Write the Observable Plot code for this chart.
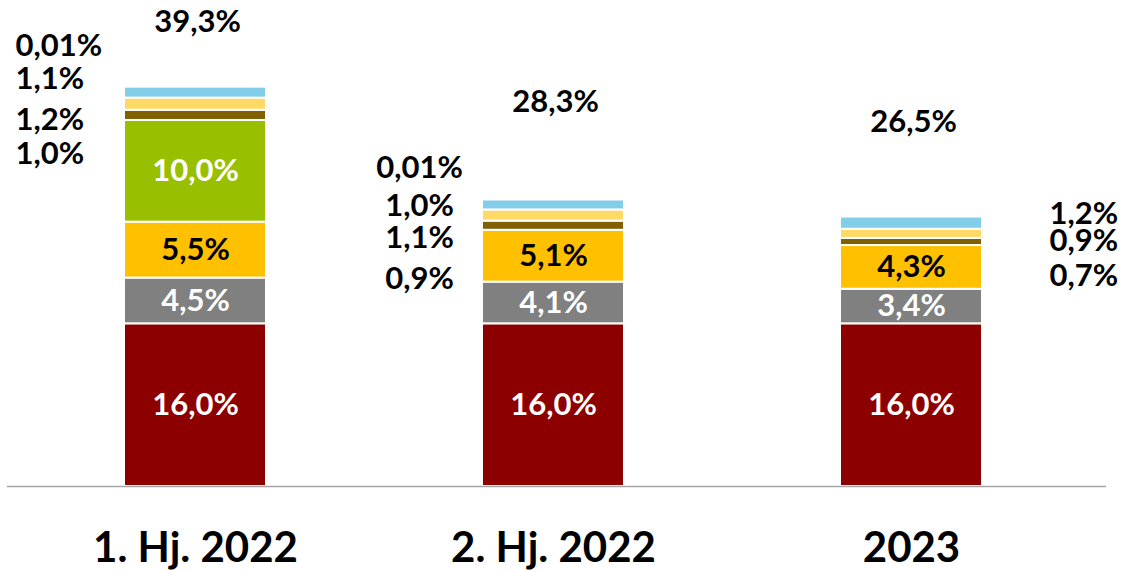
<!DOCTYPE html>
<html>
<head>
<meta charset="utf-8">
<script src="https://cdn.jsdelivr.net/npm/d3@7"></script>
<script src="https://cdn.jsdelivr.net/npm/@observablehq/plot@0.6"></script>
<style>
  html, body { margin: 0; padding: 0; background: #fff; }
  #chart svg { display: block; }
</style>
</head>
<body>
<div id="chart"></div>
<script>
// ---- data ----
const categories = ["1. Hj. 2022", "2. Hj. 2022", "2023"];
const seriesNames = ["Anteil 1", "Anteil 2", "Anteil 3", "Anteil 4", "Anteil 5", "Anteil 6", "Anteil 7", "Anteil 8"];
const seriesColors = ["#8C0000", "#808080", "#FFC000", "#99C000", "#806000", "#FFD966", "#82CDE8", "#2F5597"];
const anteil1 = [16.0, 16.0, 16.0];
const anteil2 = [4.5, 4.1, 3.4];
const anteil3 = [5.5, 5.1, 4.3];
const anteil4 = [10.0, 0, 0];
const anteil5 = [1.0, 0.9, 0.7];
const anteil6 = [1.2, 1.1, 0.9];
const anteil7 = [1.1, 1.0, 1.2];
const anteil8 = [0.01, 0.01, 0];
const totals = [39.3, 28.3, 26.5];

// which series are labelled outside the bar, per category (top to bottom)
const outsideSeries = [["Anteil 8", "Anteil 7", "Anteil 6", "Anteil 5"], ["Anteil 8", "Anteil 7", "Anteil 6", "Anteil 5"], ["Anteil 7", "Anteil 6", "Anteil 5"]];
// label layout (y position in value units) – layout, not data
const outsideLabelY = [[43.3, 40.1, 36.0, 32.7], [31.3, 27.6, 24.4, 20.4], [26.8, 24.1, 20.7]];
const totalLabelY = [45.7, 37.8, 35.8];

const allSeries = [anteil1, anteil2, anteil3, anteil4, anteil5, anteil6, anteil7, anteil8];
const rows = [];
allSeries.forEach((arr, si) => {
  arr.forEach((v, ci) => rows.push({cat: categories[ci], series: seriesNames[si], value: v}));
});

const fmt = v => (v < 0.1 ? v.toFixed(2) : v.toFixed(1)).replace(".", ",") + "%";
const getVal = (cat, s) => allSeries[seriesNames.indexOf(s)][categories.indexOf(cat)];

const outsideRows = [];
outsideSeries.forEach((list, ci) => list.forEach((s, k) => outsideRows.push({
  cat: categories[ci], ci, label: fmt(getVal(categories[ci], s)), pos: outsideLabelY[ci][k]
})));
const totalRows = totals.map((t, ci) => ({cat: categories[ci], ci, label: fmt(t), pos: totalLabelY[ci]}));

const whiteLabel = new Set(["Anteil 1", "Anteil 2", "Anteil 4"]);
const blackLabel = new Set(["Anteil 3"]);

const font = "Lato, 'Open Sans', sans-serif";
const fs = 31;

const chart = Plot.plot({
  width: 1126,
  height: 570,
  marginTop: 0,
  marginBottom: 84,
  marginLeft: 7,
  marginRight: 20,
  style: {fontFamily: font, background: "white"},
  x: {domain: categories, paddingInner: 0.604, paddingOuter: 0.335, align: 0.483, label: null},
  y: {domain: [0, 47.8], axis: null},
  color: {domain: seriesNames, range: seriesColors},
  marks: [
    Plot.barY(rows, Plot.stackY({x: "cat", y: "value", fill: "series", z: "series", order: seriesNames, stroke: "white", strokeWidth: 2})),
    Plot.text(rows, Plot.stackY({x: "cat", y: "value", z: "series", order: seriesNames,
      text: d => whiteLabel.has(d.series) && d.value > 0 ? fmt(d.value) : null,
      fill: "white", fontSize: fs, fontWeight: "bold"})),
    Plot.text(rows, Plot.stackY({x: "cat", y: "value", z: "series", order: seriesNames,
      text: d => blackLabel.has(d.series) && d.value > 0 ? fmt(d.value) : null,
      fill: "black", fontSize: fs, fontWeight: "bold"})),
    Plot.ruleY([0], {stroke: "#a6a6a6", strokeWidth: 1.5}),
    Plot.text(outsideRows.filter(d => d.ci === 0), {x: "cat", y: "pos", text: "label", dx: -180, textAnchor: "start", fill: "black", fontSize: fs, fontWeight: "bold"}),
    Plot.text(outsideRows.filter(d => d.ci === 1), {x: "cat", y: "pos", text: "label", dx: -134, textAnchor: "middle", fill: "black", fontSize: fs, fontWeight: "bold"}),
    Plot.text(outsideRows.filter(d => d.ci === 2), {x: "cat", y: "pos", text: "label", dx: 138, textAnchor: "start", fill: "black", fontSize: fs, fontWeight: "bold"}),
    Plot.text(totalRows, {x: "cat", y: "pos", text: "label", dx: 2, fill: "black", fontSize: fs, fontWeight: "bold"}),
    Plot.axisX({tickSize: 0, tickPadding: 46, fontSize: 42, fontWeight: "bold", color: "black", label: null})
  ]
});
document.getElementById("chart").appendChild(chart);
</script>
</body>
</html>
